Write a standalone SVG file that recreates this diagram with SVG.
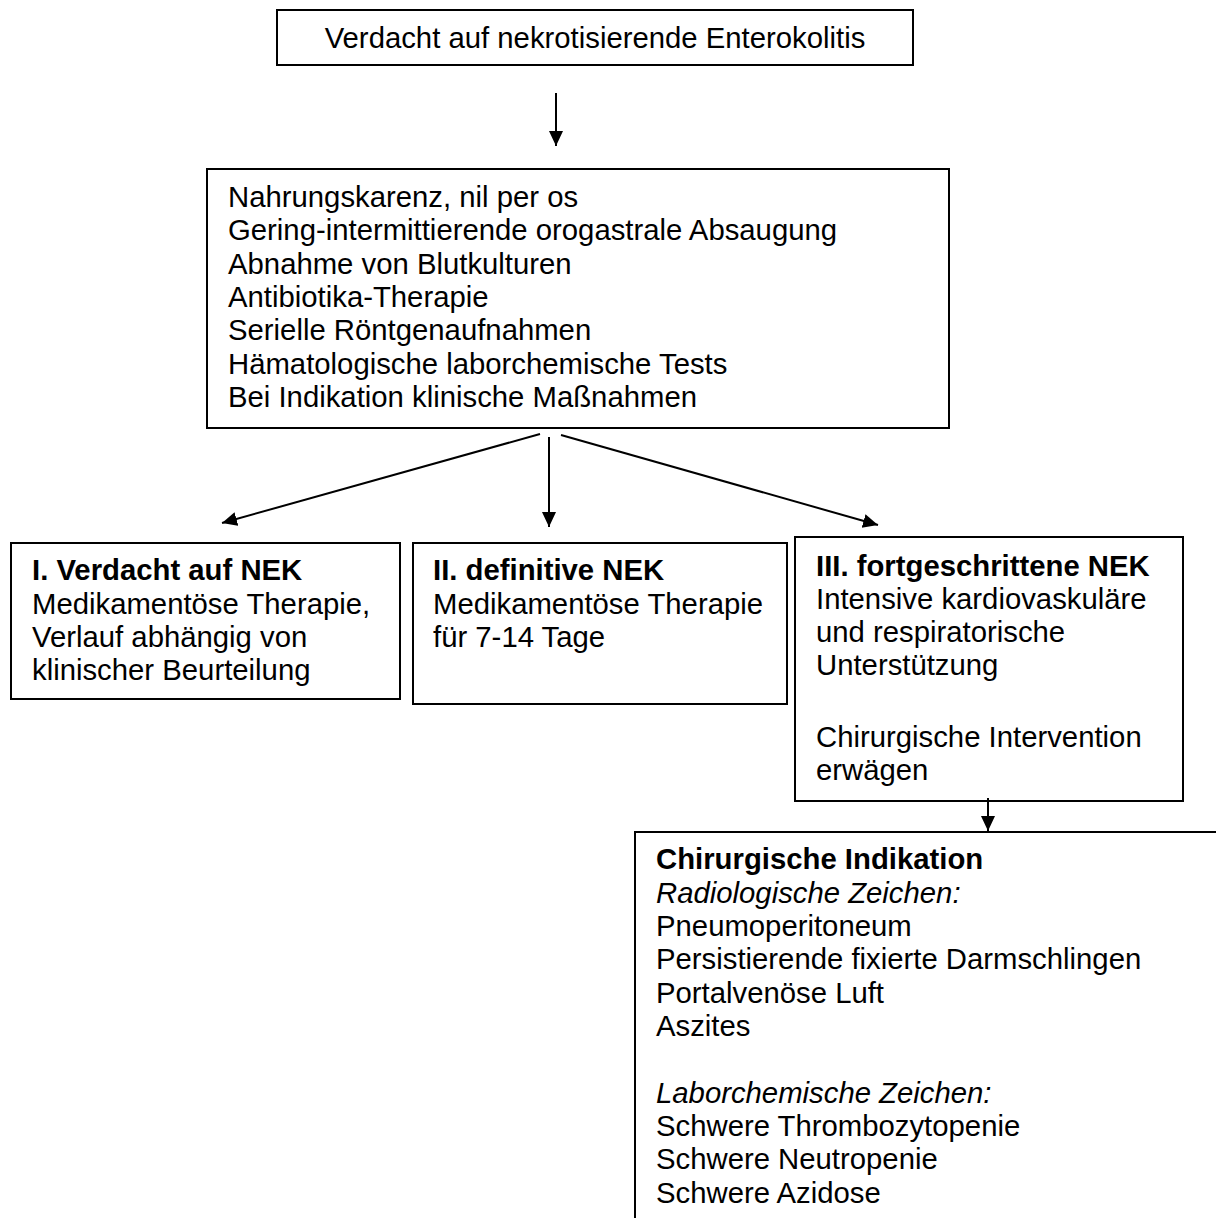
<svg xmlns="http://www.w3.org/2000/svg" width="1216" height="1218" viewBox="0 0 1216 1218">
  <style>
    .box { fill: #ffffff; stroke: #000000; stroke-width: 2; }
    .t { font-family: "Liberation Sans", Arial, sans-serif; font-size: 29.3px; fill: #000000; }
    .b { font-weight: bold; }
    .i { font-style: italic; }
    .conn { stroke: #000000; stroke-width: 2; fill: none; marker-end: url(#arrow); }
  </style>
  <defs>
    <marker id="arrow" markerUnits="userSpaceOnUse" markerWidth="16" markerHeight="16" refX="15" refY="7" orient="auto">
      <path d="M0,0 L15,7 L0,14 Z" fill="#000000"/>
    </marker>
  </defs>
  <rect width="1216" height="1218" fill="#ffffff"/>

  <g id="node-start">
    <rect class="box" x="277" y="10" width="636" height="55"/>
    <text class="t" x="595" y="48" text-anchor="middle">Verdacht auf nekrotisierende Enterokolitis</text>
  </g>

  <g id="node-measures">
    <rect class="box" x="207" y="169" width="742" height="259"/>
    <text class="t" x="228" y="207">Nahrungskarenz, nil per os</text>
    <text class="t" x="228" y="240.3">Gering-intermittierende orogastrale Absaugung</text>
    <text class="t" x="228" y="273.6">Abnahme von Blutkulturen</text>
    <text class="t" x="228" y="307">Antibiotika-Therapie</text>
    <text class="t" x="228" y="340.3">Serielle Röntgenaufnahmen</text>
    <text class="t" x="228" y="373.6">Hämatologische laborchemische Tests</text>
    <text class="t" x="228" y="407">Bei Indikation klinische Maßnahmen</text>
  </g>

  <g id="node-stage1">
    <rect class="box" x="11" y="543" width="389" height="156"/>
    <text class="t b" x="32" y="580">I. Verdacht auf NEK</text>
    <text class="t" x="32" y="613.5">Medikamentöse Therapie,</text>
    <text class="t" x="32" y="647">Verlauf abhängig von</text>
    <text class="t" x="32" y="680.3">klinischer Beurteilung</text>
  </g>

  <g id="node-stage2">
    <rect class="box" x="413" y="543" width="374" height="161"/>
    <text class="t b" x="433" y="580">II. definitive NEK</text>
    <text class="t" x="433" y="613.5">Medikamentöse Therapie</text>
    <text class="t" x="433" y="647">für 7-14 Tage</text>
  </g>

  <g id="node-stage3">
    <rect class="box" x="795" y="537" width="388" height="264"/>
    <text class="t b" x="816" y="575.5">III. fortgeschrittene NEK</text>
    <text class="t" x="816" y="608.5">Intensive kardiovaskuläre</text>
    <text class="t" x="816" y="641.8">und respiratorische</text>
    <text class="t" x="816" y="675">Unterstützung</text>
    <text class="t" x="816" y="747">Chirurgische Intervention</text>
    <text class="t" x="816" y="780">erwägen</text>
  </g>

  <g id="node-surgery">
    <rect class="box" x="635" y="832" width="700" height="500"/>
    <text class="t b" x="656" y="869.3">Chirurgische Indikation</text>
    <text class="t i" x="656" y="902.7">Radiologische Zeichen:</text>
    <text class="t" x="656" y="936">Pneumoperitoneum</text>
    <text class="t" x="656" y="969.3">Persistierende fixierte Darmschlingen</text>
    <text class="t" x="656" y="1002.7">Portalvenöse Luft</text>
    <text class="t" x="656" y="1036">Aszites</text>
    <text class="t i" x="656" y="1102.7">Laborchemische Zeichen:</text>
    <text class="t" x="656" y="1136">Schwere Thrombozytopenie</text>
    <text class="t" x="656" y="1169.3">Schwere Neutropenie</text>
    <text class="t" x="656" y="1202.7">Schwere Azidose</text>
  </g>

  <g id="connectors">
    <line class="conn" x1="556" y1="93" x2="556" y2="146"/>
    <line class="conn" x1="540" y1="434" x2="222" y2="523"/>
    <line class="conn" x1="549" y1="437" x2="549" y2="527"/>
    <line class="conn" x1="561" y1="435" x2="878" y2="525"/>
    <line class="conn" x1="988" y1="798" x2="988" y2="831"/>
  </g>
</svg>
